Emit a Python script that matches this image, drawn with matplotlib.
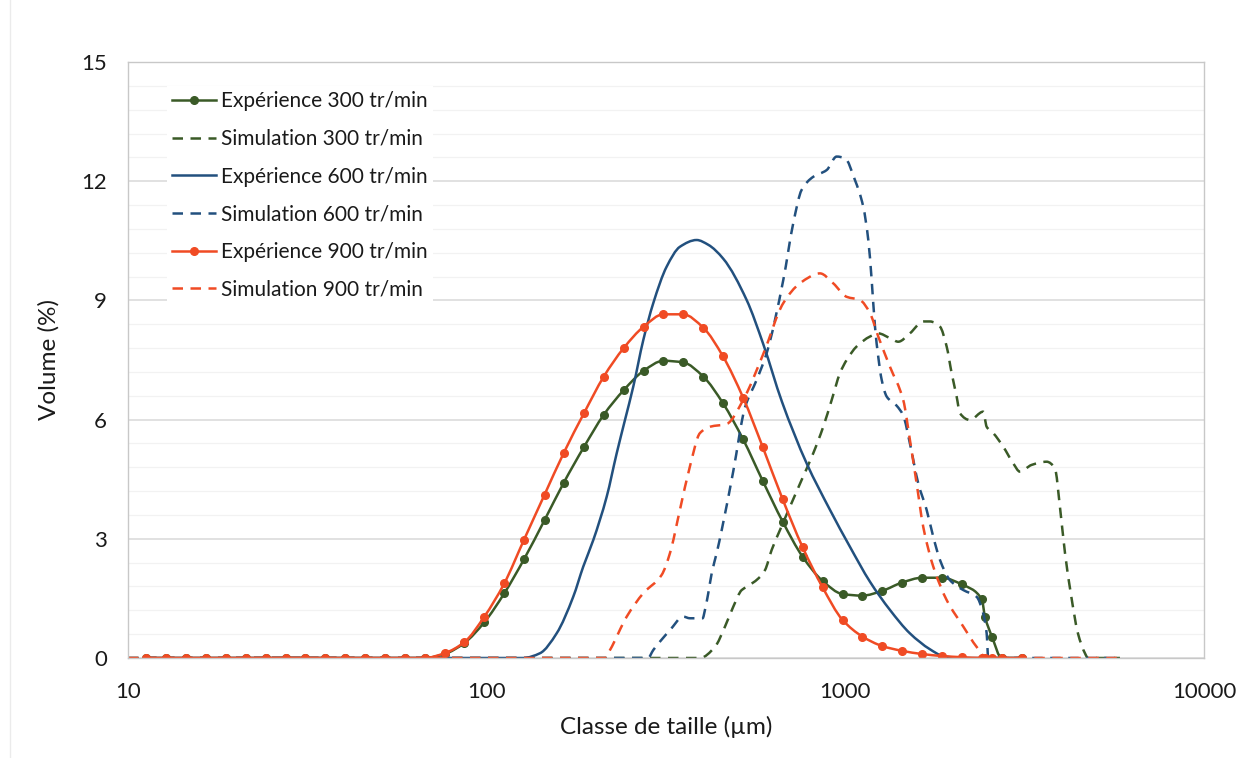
import matplotlib
matplotlib.use('Agg')
import numpy as np
import matplotlib.pyplot as plt
from matplotlib.ticker import FixedLocator, FixedFormatter, NullLocator, MultipleLocator
from matplotlib.lines import Line2D
from matplotlib.path import Path
from matplotlib.patches import PathPatch

plt.rcParams['font.family'] = ['Lato', 'DejaVu Sans']

# ---------------- data ----------------
size_exp = [11.2, 12.8, 14.5, 16.5, 18.7, 21.3, 24.2, 27.5, 31.2, 35.4, 40.3, 45.8,
            52.0, 59.1, 67.1, 76.3, 86.7, 98.5, 112, 127, 145, 164, 187, 212, 241,
            274, 311, 353, 402, 456, 519, 589, 669, 760, 864, 982, 1116, 1268, 1440,
            1637, 1860, 2113, 2401, 2451, 2563, 2728, 3099]

exp_300 = [0, 0, 0, 0, 0, 0, 0, 0, 0, 0, 0, 0, 0, 0, 0,
           0.10, 0.38, 0.90, 1.63, 2.48, 3.47, 4.41, 5.32, 6.12, 6.74, 7.23, 7.48,
           7.44, 7.08, 6.41, 5.50, 4.45, 3.43, 2.55, 1.94, 1.61, 1.57, 1.69, 1.90,
           2.02, 2.02, 1.85, 1.48, 1.04, 0.54, 0, 0]

exp_900 = [0, 0, 0, 0, 0, 0, 0, 0, 0, 0, 0, 0, 0, 0, 0,
           0.12, 0.40, 1.04, 1.88, 2.97, 4.11, 5.16, 6.17, 7.08, 7.80, 8.34, 8.65,
           8.65, 8.31, 7.59, 6.55, 5.30, 3.99, 2.79, 1.78, 0.96, 0.54, 0.30, 0.18,
           0.10, 0.05, 0.02, 0, 0, 0, 0, 0]

size_exp_600 = [11.2, 126.3, 140.8, 156.7, 174.3, 185.9, 198.3, 216.1, 230.4, 243.0,
                256.3, 273.3, 291.4, 317.6, 345.8, 385.0, 414.8, 456.6, 530.7, 590.4,
                665.7, 780.0, 905.9, 1029.9, 1171.3, 1331.7, 1513.7, 1721.4, 1871.4,
                2087.1, 3099]
exp_600 = [0, 0, 0.12, 0.62, 1.54, 2.30, 2.97, 4.06, 5.15, 5.99,
           6.83, 8.0, 8.93, 9.85, 10.35, 10.52, 10.40, 10.05, 9.01, 7.9,
           6.45, 4.90, 3.73, 2.80, 1.92, 1.21, 0.62, 0.22, 0.05,
           0, 0]

size_sim_300 = [10, 393.2, 433.0, 461.8, 487.0, 514.1, 530.7, 571.8, 596.9, 623.2,
                657.3, 701.1, 755.3, 813.6, 867.8, 915.9, 966.3, 1008.4, 1075.2,
                1171.3, 1235.4, 1331.7, 1404.6, 1513.7, 1649.0, 1721.4, 1835.6,
                1916.3, 1978.8, 2043.3, 2087.1, 2225.4, 2424.0, 2477.5, 2584.7,
                2755.0, 2938.1, 3067.2, 3307.5, 3641.8, 3841.2, 3966.3, 4095.7,
                4256.6, 4451.9, 4656.6, 4747.1, 5830]
sim_300 = [0, 0, 0.28, 0.79, 1.29, 1.71, 1.79, 2.0, 2.21, 2.72,
           3.22, 3.81, 4.48, 5.15, 5.82, 6.49, 7.17, 7.5, 7.84,
           8.09, 8.17, 8.05, 7.96, 8.17, 8.47, 8.47, 8.34,
           7.84, 7.17, 6.58, 6.16, 5.99, 6.2, 5.82, 5.66,
           5.32, 4.90, 4.69, 4.86, 4.94, 4.77, 3.8, 2.65,
           1.6, 0.62, 0.12, 0, 0]

size_sim_600 = [10, 281.7, 291.4, 324.4, 353.3, 368.7, 400.1, 406.1, 414.8, 424.0,
                437.8, 452.2, 487.0, 524.9, 565.9, 603.4, 671.3, 715.7, 755.3,
                813.6, 887.0, 945.8, 997.5, 1063.6, 1121.8, 1158.8, 1184.3, 1209.7,
                1235.4, 1262.9, 1304.1, 1390.0, 1450.5, 1513.7, 1596.6, 1685.0,
                1758.6, 1835.6, 1956.9, 2132.8, 2323.2, 2424.0, 2477.5, 2502.8, 5830]
sim_600 = [0, 0, 0.2, 0.7, 1.04, 1.0, 1.0, 1.21, 1.63, 2.13,
           2.64, 3.22, 4.7, 6.3, 7.0, 7.67, 9.51, 10.94, 11.78,
           12.11, 12.28, 12.62, 12.58, 12.03, 11.36, 10.52, 9.51, 8.34,
           7.58, 7.0, 6.58, 6.35, 6.1, 5.4, 4.40, 3.73,
           3.05, 2.47, 1.96, 1.71, 1.54, 1.12, 0.62, 0, 0]

size_sim_900 = [10, 213.7, 220.7, 245.7, 273.3, 307.5, 324.4, 345.8, 368.7, 393.2,
                419.4, 466.7, 519.4, 590.4, 671.3, 747.1, 849.8, 925.3, 1008.4,
                1098.2, 1171.3, 1235.4, 1331.7, 1450.5, 1513.7, 1580.0, 1649.0,
                1758.6, 1916.3, 2132.8, 2323.2, 2477.5, 5830]
sim_900 = [0, 0, 0.2, 1.04, 1.63, 2.09, 2.64, 3.73, 4.82, 5.66,
           5.82, 5.89, 6.5, 7.65, 8.93, 9.43, 9.68, 9.43, 9.09,
           9.01, 8.68, 8.09, 7.33, 6.49, 5.49, 4.40, 3.30,
           2.30, 1.46, 0.79, 0.28, 0, 0]

labels = ['Expérience 300 tr/min', 'Simulation 300 tr/min',
          'Expérience 600 tr/min', 'Simulation 600 tr/min',
          'Expérience 900 tr/min', 'Simulation 900 tr/min']

x_ticks = [10, 100, 1000, 10000]
x_ticklabels = ['10', '100', '1000', '10000']
y_ticks = [0, 3, 6, 9, 12, 15]

# ---------------- style ----------------
GREEN = '#3A5A27'
BLUE = '#22507E'
RED = '#F04B24'
LW = 1.8
MS = 5.5
DASH = (0, (4.2, 3.0))


def smooth_path(xs, ys):
    """Smoothed line through the data points (monotone cubic Hermite segments
    in log-x / linear-y space, expressed as Bezier curves)."""
    u = np.log10(np.asarray(xs, float))
    y = np.asarray(ys, float)
    n = len(u)
    h = np.diff(u)
    d = np.diff(y) / h
    m = np.zeros(n)
    m[0] = d[0]
    m[-1] = d[-1]
    for i in range(1, n - 1):
        if d[i - 1] * d[i] <= 0:
            m[i] = 0.0
        else:
            w1 = 2 * h[i] + h[i - 1]
            w2 = h[i] + 2 * h[i - 1]
            m[i] = (w1 + w2) / (w1 / d[i - 1] + w2 / d[i])
    verts = [(xs[0], ys[0])]
    codes = [Path.MOVETO]
    for i in range(n - 1):
        c1 = (10 ** (u[i] + h[i] / 3), y[i] + m[i] * h[i] / 3)
        c2 = (10 ** (u[i + 1] - h[i] / 3), y[i + 1] - m[i + 1] * h[i] / 3)
        verts += [c1, c2, (xs[i + 1], ys[i + 1])]
        codes += [Path.CURVE4] * 3
    return Path(verts, codes)


fig = plt.figure(figsize=(12.59, 7.58), dpi=100)
ax = fig.add_axes([128 / 1259, 1 - 658 / 758, (1204 - 128) / 1259, (658 - 62) / 758])

series = [
    (size_exp, exp_300, GREEN, '-', True),
    (size_sim_300, sim_300, GREEN, DASH, False),
    (size_exp_600, exp_600, BLUE, '-', False),
    (size_sim_600, sim_600, BLUE, DASH, False),
    (size_exp, exp_900, RED, '-', True),
    (size_sim_900, sim_900, RED, DASH, False),
]

handles = []
for k, (xs, ys, col, ls, mk) in enumerate(series):
    patch = PathPatch(smooth_path(xs, ys), facecolor='none', edgecolor=col, lw=LW,
                      linestyle=ls, joinstyle='round', capstyle='butt',
                      transform=ax.transData, zorder=2 + k * 0.1)
    ax.add_patch(patch)
    if mk:
        ax.plot(xs, ys, linestyle='none', marker='o', ms=MS, color=col,
                zorder=2.05 + k * 0.1)
    handles.append(Line2D([], [], color=col, lw=LW, linestyle=ls,
                          marker='o' if mk else None, ms=MS))

ax.set_xscale('log')
ax.set_xlim(10, 10000)
ax.set_ylim(0, 15)
ax.xaxis.set_major_locator(FixedLocator(x_ticks))
ax.xaxis.set_major_formatter(FixedFormatter(x_ticklabels))
ax.xaxis.set_minor_locator(NullLocator())
ax.set_yticks(y_ticks)
ax.yaxis.set_minor_locator(MultipleLocator(0.6))

ax.grid(axis='y', which='major', color='#D9D9D9', lw=1.1, zorder=0)
ax.grid(axis='y', which='minor', color='#F2F2F2', lw=0.9, zorder=0)
ax.grid(axis='x', which='both', visible=False)
ax.set_axisbelow(True)

for s in ax.spines.values():
    s.set_color('#C8C8C8')
    s.set_linewidth(1.0)

ax.tick_params(axis='both', which='both', length=0, labelsize=16, colors='#1a1a1a')
ax.tick_params(axis='x', pad=17)
ax.tick_params(axis='y', pad=15)

ax.set_xlabel('Classe de taille (µm)', fontsize=17.5, color='#1a1a1a', labelpad=10)
ax.set_ylabel('Volume (%)', fontsize=17.5, color='#1a1a1a', labelpad=16)

leg = ax.legend(handles, labels, loc='upper left',
                bbox_to_anchor=(167 / 1259, 1 - 86 / 758),
                bbox_transform=fig.transFigure, frameon=True, fancybox=False,
                facecolor='white', edgecolor='none', framealpha=1,
                fontsize=15, handlelength=2.1, handletextpad=0.25,
                labelspacing=0.85, borderpad=0.25, borderaxespad=0, numpoints=1)
leg.set_zorder(5)
for t in leg.get_texts():
    t.set_color('#1a1a1a')

fig.add_artist(Line2D([10 / 1259, 10 / 1259], [0, 1], transform=fig.transFigure,
                      color='#EBEBEB', lw=1))

fig.savefig('out.png', dpi=100, facecolor='white')
